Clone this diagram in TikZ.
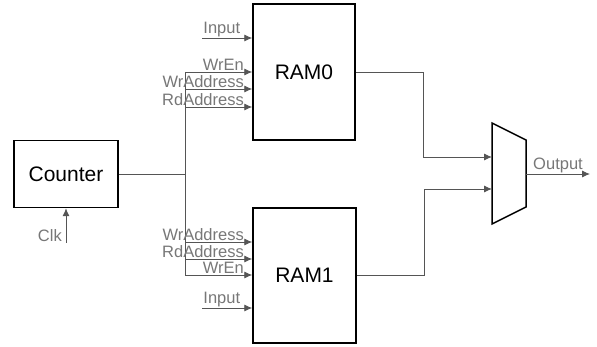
\documentclass[tikz,border=0pt]{standalone}
\usepackage{fontspec}
\setmainfont{Liberation Sans}
\usetikzlibrary{arrows.meta,positioning,calc}
\definecolor{wiregray}{HTML}{555555}
\definecolor{labgray}{HTML}{777777}

\begin{document}
\begin{tikzpicture}[x=1pt,y=-1pt,
    blk/.style  = {rectangle,draw=black,line width=1.5pt,inner sep=0pt,
                   font=\fontsize{21}{24}\selectfont},
    sig/.style  = {-{Latex[length=8pt,width=7pt]},wiregray,line width=0.9pt},
    wire/.style = {wiregray,line width=0.9pt},
    lab/.style  = {font=\fontsize{16.5}{18}\selectfont,text=labgray,inner sep=1pt},
  ]
  \useasboundingbox (0,0) rectangle (597,347);

  \node[blk,minimum width=104pt,minimum height=67pt]  (counter) at (66,174)    {Counter};
  \node[blk,minimum width=102pt,minimum height=136pt] (ram0)    at (304,72)    {RAM0};
  \node[blk,minimum width=103pt,minimum height=135pt] (ram1)    at (304.5,275.5) {RAM1};

  % Multiplexeur de sortie
  \coordinate (mux0)   at (492,157);
  \coordinate (mux1)   at (492,189);
  \coordinate (muxout) at (526,174);
  \coordinate (out)    at (590,174);
  \draw[black,line width=1.5pt] (492,123) -- (526,140) -- (526,207) -- (492,224) -- cycle;

  % Horloge
  \coordinate (clk) at (66,243);
  \draw[sig] (clk) -- (counter.south);
  \node[lab,anchor=south east,xshift=-3pt] at (clk) {Clk};

  % Bus d'adresses du compteur
  \coordinate (bus) at (185,174);
  \draw[wire] (counter.east) -- (bus);
  \draw[wire] (185,72) -- (185,275);

  \foreach \y/\txt in {72/WrEn,89/WrAddress,107/RdAddress}
    \draw[sig] (185,\y) -- (ram0.west |- 0,\y)
         node[lab,anchor=south east,pos=1,xshift=-7pt] {\txt};
  \foreach \y/\txt in {242/WrAddress,259/RdAddress,275/WrEn}
    \draw[sig] (185,\y) -- (ram1.west |- 0,\y)
         node[lab,anchor=south east,pos=1,xshift=-7pt] {\txt};

  % Entrees de donnees
  \draw[sig] (202,38)  -- (ram0.west |- 0,38)  node[lab,anchor=south west,pos=0] {Input};
  \draw[sig] (202,308) -- (ram1.west |- 0,308) node[lab,anchor=south west,pos=0] {Input};

  % Sorties vers le multiplexeur
  \draw[sig] (ram0.east) -- ++(68,0) |- (mux0);
  \draw[sig] (ram1.east) -- ++(68,0) |- (mux1);
  \draw[sig] (muxout) -- node[lab,anchor=south] {Output} (out);

\end{tikzpicture}
\end{document}
